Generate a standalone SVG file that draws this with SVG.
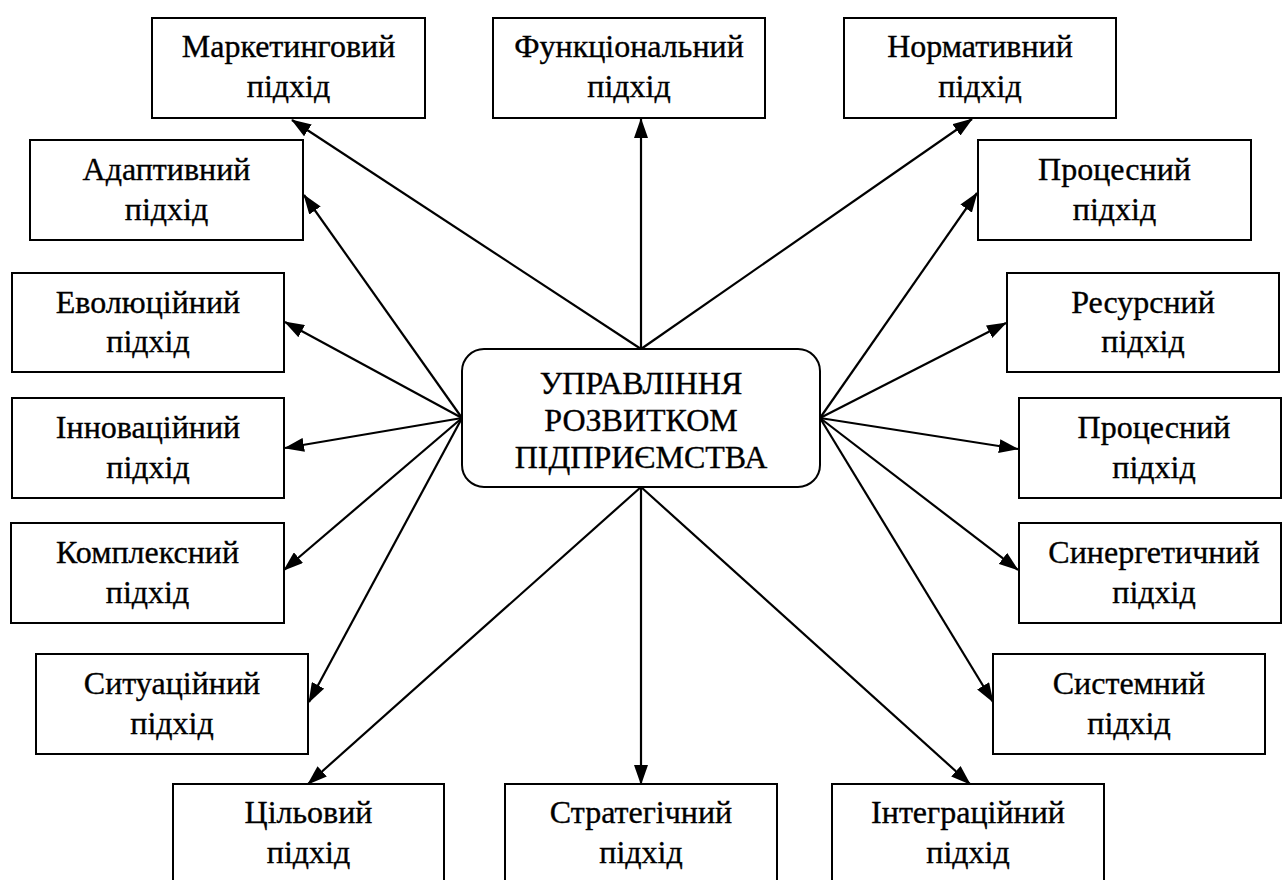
<svg xmlns="http://www.w3.org/2000/svg" width="1283" height="880" viewBox="0 0 1283 880">
  <style>
    .box { fill: #ffffff; stroke: #000000; stroke-width: 2; }
    .lbl { font-family: "Liberation Serif", "Times New Roman", serif; font-size: 32px; fill: #000000; stroke: #000000; stroke-width: 0.35; text-anchor: middle; }
    .conn { stroke: #000000; stroke-width: 2.2; fill: none; marker-end: url(#arrow); }
  </style>
  <defs>
    <marker id="arrow" markerUnits="userSpaceOnUse" markerWidth="20" markerHeight="14" refX="19" refY="7" orient="auto" viewBox="0 0 20 14">
      <path d="M0,0 L20,7 L0,14 Z" fill="#000000"/>
    </marker>
  </defs>
  <rect width="1283" height="880" fill="#ffffff"/>

  <!-- connectors radiating from the central node -->
  <g id="connectors">
    <path class="conn" d="M641,349 L292,120"/>
    <path class="conn" d="M641,349 L641,119"/>
    <path class="conn" d="M641,349 L972,119"/>
    <path class="conn" d="M462,418 L304,195"/>
    <path class="conn" d="M462,418 L285,322"/>
    <path class="conn" d="M462,418 L285,448"/>
    <path class="conn" d="M462,418 L284,570"/>
    <path class="conn" d="M462,418 L309,702"/>
    <path class="conn" d="M820,418 L977,193"/>
    <path class="conn" d="M820,418 L1006,323"/>
    <path class="conn" d="M820,418 L1018,449"/>
    <path class="conn" d="M820,418 L1018,570"/>
    <path class="conn" d="M820,418 L993,702"/>
    <path class="conn" d="M641,487 L308,784"/>
    <path class="conn" d="M641,487 L641,784"/>
    <path class="conn" d="M641,487 L970,784"/>
  </g>

  <!-- central node -->
  <g id="center">
    <rect class="box" x="462" y="349" width="358" height="138" rx="22" ry="22"/>
    <text class="lbl" x="641" y="394">УПРАВЛІННЯ</text>
    <text class="lbl" x="641" y="431">РОЗВИТКОМ</text>
    <text class="lbl" x="641" y="468">ПІДПРИЄМСТВА</text>
  </g>

  <!-- top row -->
  <g id="marketing">
    <rect class="box" x="152" y="18" width="273" height="100"/>
    <text class="lbl" x="288.5" y="57">Маркетинговий</text>
    <text class="lbl" x="288.5" y="97">підхід</text>
  </g>
  <g id="functional">
    <rect class="box" x="493" y="18" width="272" height="100"/>
    <text class="lbl" x="629" y="57">Функціональний</text>
    <text class="lbl" x="629" y="97">підхід</text>
  </g>
  <g id="normative">
    <rect class="box" x="844" y="18" width="272" height="100"/>
    <text class="lbl" x="980" y="57">Нормативний</text>
    <text class="lbl" x="980" y="97">підхід</text>
  </g>

  <!-- left column -->
  <g id="adaptive">
    <rect class="box" x="30" y="140" width="273" height="100"/>
    <text class="lbl" x="166.5" y="180">Адаптивний</text>
    <text class="lbl" x="166.5" y="220">підхід</text>
  </g>
  <g id="evolutionary">
    <rect class="box" x="12" y="273" width="272" height="99"/>
    <text class="lbl" x="148" y="313">Еволюційний</text>
    <text class="lbl" x="148" y="352">підхід</text>
  </g>
  <g id="innovative">
    <rect class="box" x="12" y="398" width="272" height="100"/>
    <text class="lbl" x="148" y="438">Інноваційний</text>
    <text class="lbl" x="148" y="478">підхід</text>
  </g>
  <g id="complex">
    <rect class="box" x="11" y="523" width="273" height="100"/>
    <text class="lbl" x="147.5" y="563">Комплексний</text>
    <text class="lbl" x="147.5" y="603">підхід</text>
  </g>
  <g id="situational">
    <rect class="box" x="36" y="654" width="272" height="100"/>
    <text class="lbl" x="172" y="694">Ситуаційний</text>
    <text class="lbl" x="172" y="734">підхід</text>
  </g>

  <!-- right column -->
  <g id="process-1">
    <rect class="box" x="978" y="140" width="273" height="100"/>
    <text class="lbl" x="1114.5" y="180">Процесний</text>
    <text class="lbl" x="1114.5" y="220">підхід</text>
  </g>
  <g id="resource">
    <rect class="box" x="1007" y="273" width="272" height="99"/>
    <text class="lbl" x="1143" y="313">Ресурсний</text>
    <text class="lbl" x="1143" y="352">підхід</text>
  </g>
  <g id="process-2">
    <rect class="box" x="1019" y="398" width="262" height="100"/>
    <text class="lbl" x="1154" y="438">Процесний</text>
    <text class="lbl" x="1154" y="478">підхід</text>
  </g>
  <g id="synergetic">
    <rect class="box" x="1019" y="523" width="262" height="100"/>
    <text class="lbl" x="1154" y="563">Синергетичний</text>
    <text class="lbl" x="1154" y="603">підхід</text>
  </g>
  <g id="systemic">
    <rect class="box" x="993" y="654" width="272" height="100"/>
    <text class="lbl" x="1129" y="694">Системний</text>
    <text class="lbl" x="1129" y="734">підхід</text>
  </g>

  <!-- bottom row -->
  <g id="goal">
    <rect class="box" x="173" y="784" width="271" height="104"/>
    <text class="lbl" x="308.5" y="823">Цільовий</text>
    <text class="lbl" x="308.5" y="863">підхід</text>
  </g>
  <g id="strategic">
    <rect class="box" x="505" y="784" width="272" height="104"/>
    <text class="lbl" x="641" y="823">Стратегічний</text>
    <text class="lbl" x="641" y="863">підхід</text>
  </g>
  <g id="integration">
    <rect class="box" x="832" y="784" width="272" height="104"/>
    <text class="lbl" x="968" y="823">Інтеграційний</text>
    <text class="lbl" x="968" y="863">підхід</text>
  </g>
</svg>
